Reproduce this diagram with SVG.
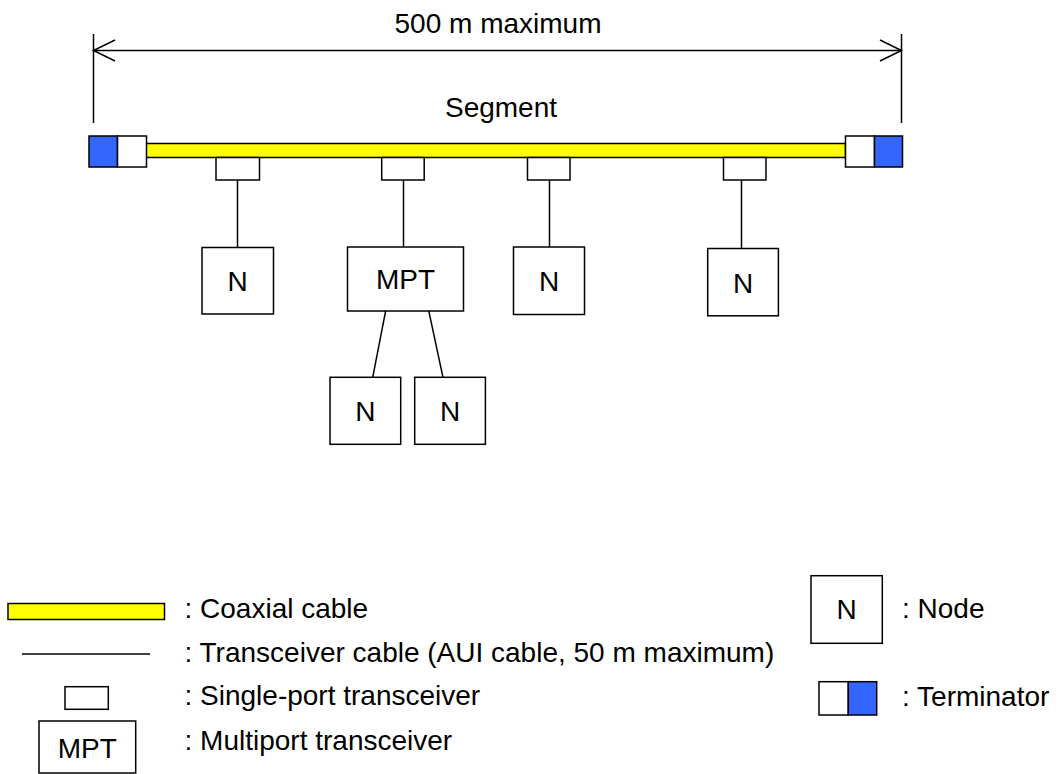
<svg xmlns="http://www.w3.org/2000/svg" width="1061" height="774" viewBox="0 0 1061 774">
<style>
  text { font-family: "Liberation Sans", Arial, sans-serif; font-size: 28px; fill: #000; }
  .c { text-anchor: middle; }
  .box { fill: #fff; stroke: #000; stroke-width: 1.5; }
  .coax { fill: #ffff00; stroke: #000; stroke-width: 1.5; }
  .term { fill: #3366ff; stroke: #000; stroke-width: 1.5; }
  .ln { fill: none; stroke: #000; stroke-width: 1.5; }
</style>
<rect width="1061" height="774" fill="#fff"/>

<g id="dimension">
  <line class="ln" x1="93.5" y1="34" x2="93.5" y2="123"/>
  <line class="ln" x1="901.5" y1="34" x2="901.5" y2="123"/>
  <line class="ln" x1="93.5" y1="50.5" x2="901.5" y2="50.5"/>
  <polyline class="ln" points="115,40 93.5,50.5 115,61"/>
  <polyline class="ln" points="880,40 901.5,50.5 880,61"/>
  <text class="c" x="498" y="33">500 m maximum</text>
  <text class="c" x="501" y="117">Segment</text>
</g>

<g id="connectors">
  <line class="ln" x1="237.5" y1="180" x2="237.5" y2="247.5"/>
  <line class="ln" x1="403.5" y1="180" x2="403.5" y2="247"/>
  <line class="ln" x1="549.5" y1="180" x2="549.5" y2="247"/>
  <line class="ln" x1="741.5" y1="180" x2="741.5" y2="248.5"/>
  <line class="ln" x1="385.7" y1="310.7" x2="372.7" y2="377.3"/>
  <line class="ln" x1="428.7" y1="310.7" x2="443" y2="377.3"/>
</g>

<g id="coax-cable">
  <rect class="coax" x="146" y="143.5" width="699.5" height="14"/>
</g>

<g id="terminator-left">
  <rect class="term" x="89" y="136" width="28.5" height="31"/>
  <rect class="box" x="117.5" y="136" width="29" height="31"/>
</g>
<g id="terminator-right">
  <rect class="box" x="845.5" y="136" width="29" height="31"/>
  <rect class="term" x="874.5" y="136" width="28" height="31"/>
</g>

<g id="transceiver-1"><rect class="box" x="216" y="157.5" width="43.5" height="22.5"/></g>
<g id="transceiver-2"><rect class="box" x="381.7" y="157.5" width="42.5" height="22.5"/></g>
<g id="transceiver-3"><rect class="box" x="527.5" y="157.5" width="42.5" height="22.5"/></g>
<g id="transceiver-4"><rect class="box" x="723.5" y="157.5" width="42.5" height="22.5"/></g>

<g id="node-1">
  <rect class="box" x="202" y="247.5" width="71.5" height="66.5"/>
  <text class="c" x="237.7" y="291">N</text>
</g>
<g id="mpt">
  <rect class="box" x="347.5" y="247" width="116" height="64"/>
  <text class="c" x="405.5" y="289">MPT</text>
</g>
<g id="node-3">
  <rect class="box" x="513.5" y="247" width="71" height="67.5"/>
  <text class="c" x="549" y="291">N</text>
</g>
<g id="node-4">
  <rect class="box" x="707.7" y="248.5" width="70.7" height="67.3"/>
  <text class="c" x="743" y="292.5">N</text>
</g>
<g id="node-5">
  <rect class="box" x="330" y="377.3" width="70.7" height="67"/>
  <text class="c" x="365.3" y="421">N</text>
</g>
<g id="node-6">
  <rect class="box" x="414.7" y="377.3" width="70.7" height="67"/>
  <text class="c" x="450" y="421">N</text>
</g>

<g id="legend">
  <rect class="coax" x="8" y="603.5" width="156.5" height="16"/>
  <text x="184.5" y="617.7">: Coaxial cable</text>
  <line class="ln" x1="22" y1="654" x2="150" y2="654"/>
  <text x="184.5" y="661.7">: Transceiver cable (AUI cable, 50 m maximum)</text>
  <rect class="box" x="65" y="686.7" width="43.3" height="22.6"/>
  <text x="184.5" y="705.3">: Single-port transceiver</text>
  <rect class="box" x="39" y="721" width="96.7" height="52"/>
  <text class="c" x="87.3" y="758">MPT</text>
  <text x="184.5" y="750">: Multiport transceiver</text>
  <rect class="box" x="811" y="575.7" width="71.3" height="67.6"/>
  <text class="c" x="846.7" y="618.5">N</text>
  <text x="902" y="617.5">: Node</text>
  <rect class="box" x="819" y="681.7" width="29.3" height="33.3"/>
  <rect class="term" x="848.3" y="681.7" width="28.4" height="33.3"/>
  <text x="902" y="706">: Terminator</text>
</g>
</svg>
